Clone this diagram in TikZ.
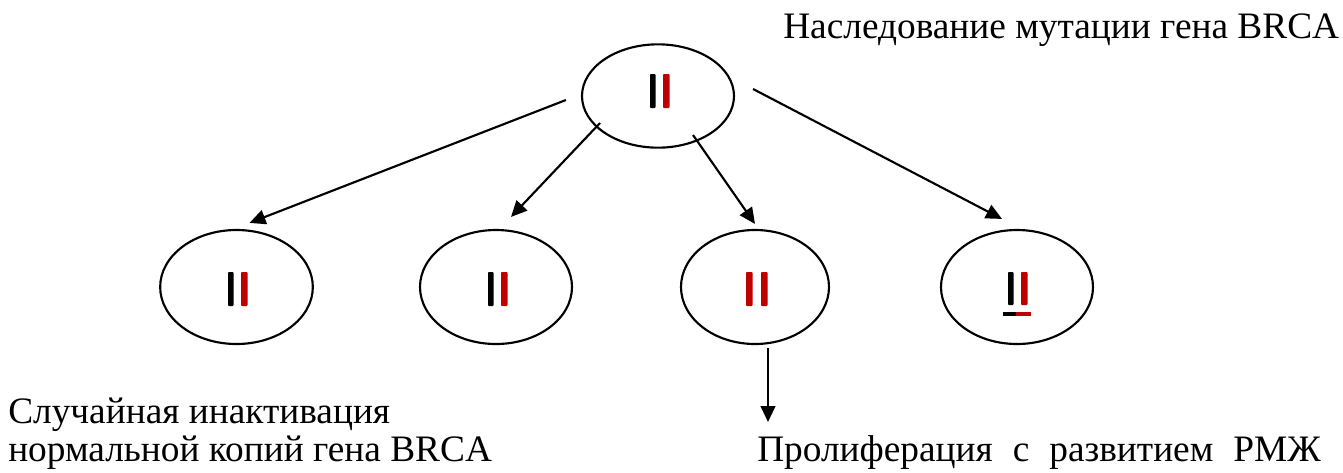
\documentclass[tikz,border=0pt]{standalone}
\usepackage{fontspec}
\setmainfont{Liberation Serif}
\usetikzlibrary{shapes.geometric,arrows.meta,calc}
\begin{document}
\begin{tikzpicture}[x=0.75pt,y=-0.75pt,
  cell/.style={draw=black,line width=1.6pt,ellipse,inner sep=0pt},
  arr/.style={line width=1.6pt,-{Triangle[length=12pt,width=11pt]}},
  lbl/.style={font=\fontsize{28pt}{28.5pt}\selectfont,inner sep=0pt,align=left},
  bk/.style={fill=black,rounded corners=0.6pt},
  rd/.style={fill=brcared,rounded corners=0.6pt}]
\definecolor{brcared}{RGB}{192,0,0}
\useasboundingbox (0,0) rectangle (1343,472);
% cells
\node[cell,minimum width=114pt,minimum height=77.5pt] (top) at (658,96) {};
\node[cell,minimum width=114.5pt,minimum height=85.5pt] (e1) at (236.5,287) {};
\node[cell,minimum width=114pt,minimum height=85.5pt] (e2) at (496,287) {};
\node[cell,minimum width=111pt,minimum height=85.5pt] (e3) at (755,287) {};
\node[cell,minimum width=114pt,minimum height=85.5pt] (e4) at (1017,287) {};
% chromosomes
\fill[bk] (650,74) rectangle (655.5,108);
\fill[rd] (663,74) rectangle (669.5,108);
\fill[bk] (228,272) rectangle (233.5,306);
\fill[rd] (241,272) rectangle (247.5,306);
\fill[bk] (488,272) rectangle (493.5,306);
\fill[rd] (501,272) rectangle (507.5,306);
\fill[rd] (746,272) rectangle (752.5,306);
\fill[rd] (761,272) rectangle (767.5,306);
\fill[bk] (1008,272) rectangle (1013.5,305);
\fill[rd] (1021,272) rectangle (1027.5,305);
\fill[black] (1003,311.5) rectangle (1016,315.5);
\fill[brcared] (1016,311.5) rectangle (1031,315.5);
% connectors
\draw[arr] ($(top.west)+(-15,4)$) -- ($(e1.north)+(13,-6)$);
\draw[arr] ($(top.center)+(-58,27)$) -- ($(e2.north)+(15,-12)$);
\draw[arr] ($(top.center)+(35,39)$) -- ($(e3.north)+(0,-5)$);
\draw[arr] ($(top.east)+(18,-7)$) -- ($(e4.north)+(-15,-10)$);
\coordinate (prolif) at (768,422);
\draw[arr] ($(e3.south)+(13,3)$) -- (prolif);
% labels
\node[lbl,anchor=base west] (t1) at (783,38) {Наследование мутации гена BRCA};
\node[lbl,anchor=base west] (t2) at (8,461) {Случайная инактивация\\нормальной копий гена BRCA};
\node[lbl,anchor=base west] (t3) at (757,461) {Пролиферация\hspace{8pt} с\hspace{8pt} развитием\hspace{8pt} РМЖ};
\end{tikzpicture}
\end{document}
